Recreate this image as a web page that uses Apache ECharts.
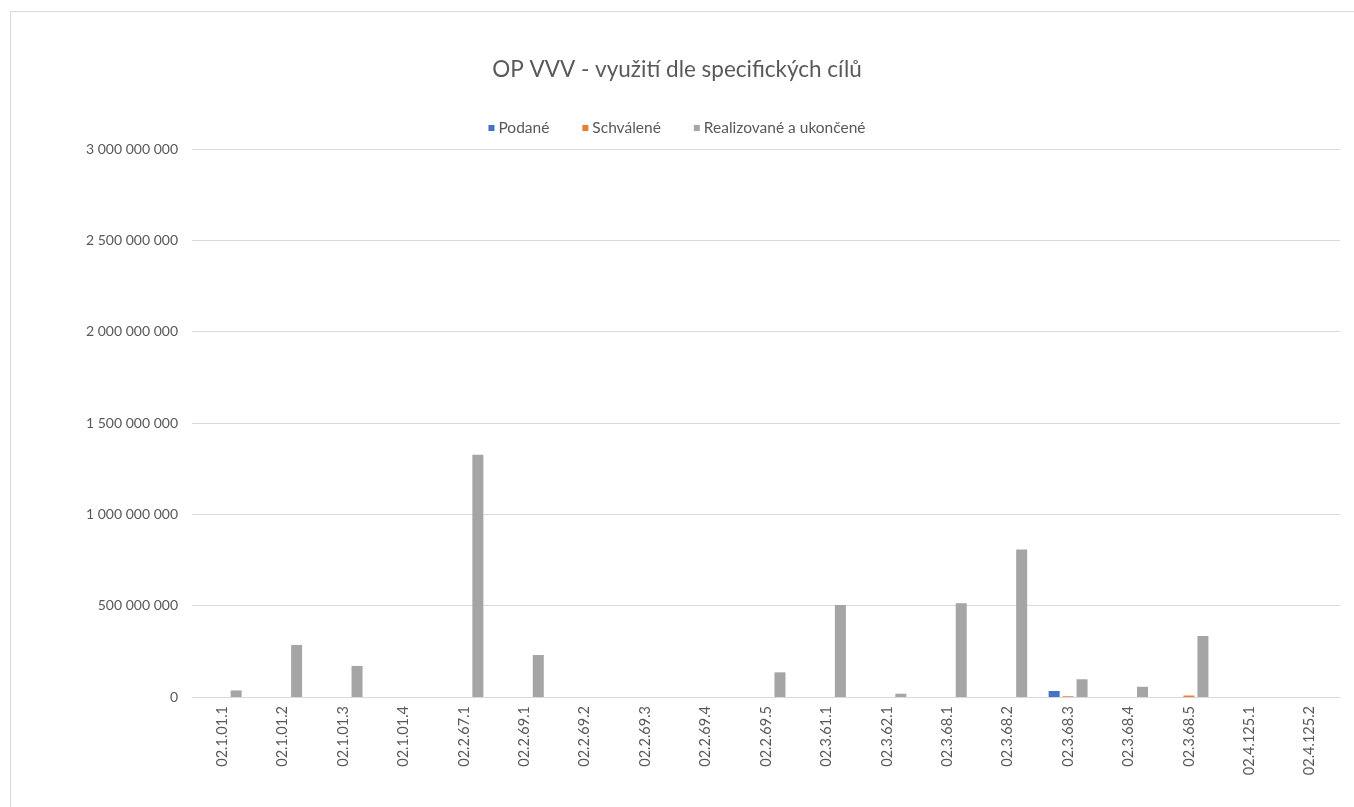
<!DOCTYPE html>
<html>
<head>
<meta charset="utf-8">
<script src="https://cdn.jsdelivr.net/npm/echarts@6/dist/echarts.min.js"></script>
<style>
  html, body { margin: 0; padding: 0; overflow: hidden; background: #fff; }
  .frame {
    position: absolute; left: 10px; top: 11px;
    width: 1400px; height: 850px;
    border: 1px solid #d9d9d9;
  }
  #chart { position: absolute; left: 0; top: 0; width: 1354px; height: 807px; }
</style>
</head>
<body>
<div class="frame"></div>
<div id="chart"></div>
<script>
// kategorie (specifické cíle)
const categories = [
  '02.1.01.1', '02.1.01.2', '02.1.01.3', '02.1.01.4', '02.2.67.1',
  '02.2.69.1', '02.2.69.2', '02.2.69.3', '02.2.69.4', '02.2.69.5',
  '02.3.61.1', '02.3.62.1', '02.3.68.1', '02.3.68.2', '02.3.68.3',
  '02.3.68.4', '02.3.68.5', '02.4.125.1', '02.4.125.2',
]

// hodnoty (Kč)
const podane = [0, 0, 0, 0, 0, 0, 0, 0, 0, 0, 0, 0, 0, 0, 33000000, 0, 0, 0, 0]
const schvalene = [0, 0, 0, 0, 0, 0, 0, 0, 0, 0, 0, 0, 0, 0, 4000000, 0, 8000000, 0, 0]
const realizovane = [
  36000000, 285000000, 170000000, 0, 1326000000,
  230000000, 0, 0, 0, 135000000,
  504000000, 18000000, 513000000, 808000000, 97000000,
  56000000, 334000000, 0, 0,
]

const seriesNames = ['Podané', 'Schválené', 'Realizované a ukončené']
const seriesColors = ['#4472C4', '#ED7D31', '#A5A5A5']

const yMin = 0
const yMax = 3000000000
const yInterval = 500000000

const font = 'Lato, "DejaVu Sans", sans-serif'
const textColor = '#595959'

function fmt(v) {
  return String(v).replace(/\B(?=(\d{3})+(?!\d))/g, ' ')
}

const chart = echarts.init(document.getElementById('chart'), null, { renderer: 'canvas' })

const data = [podane, schvalene, realizovane]

chart.setOption({
  backgroundColor: 'transparent',
  animation: false,
  textStyle: { fontFamily: font, color: textColor },
  title: {
    text: 'OP VVV - využití dle specifických cílů',
    left: 'center',
    top: 53,
    textStyle: { fontFamily: font, fontSize: 22.5, fontWeight: 'normal', color: textColor },
  },
  legend: {
    data: seriesNames,
    top: 115,
    left: 'center',
    itemWidth: 6,
    itemHeight: 6,
    itemGap: 33,
    icon: 'rect',
    textStyle: { fontFamily: font, fontSize: 15.5, color: textColor, padding: [0, 0, 0, -1] },
  },
  grid: { left: 192, right: 14, top: 149, bottom: 110, containLabel: false },
  xAxis: {
    type: 'category',
    data: categories,
    axisLine: { lineStyle: { color: '#d9d9d9', width: 1 } },
    axisTick: { show: false },
    axisLabel: {
      rotate: 90,
      interval: 0,
      margin: 9,
      fontFamily: font,
      fontSize: 14.5,
      color: textColor,
    },
  },
  yAxis: {
    type: 'value',
    min: yMin,
    max: yMax,
    interval: yInterval,
    axisLine: { show: false },
    axisTick: { show: false },
    splitLine: { lineStyle: { color: '#d9d9d9', width: 1 } },
    axisLabel: {
      margin: 14,
      fontFamily: font,
      fontSize: 14,
      color: textColor,
      formatter: (v) => fmt(v),
    },
  },
  series: seriesNames.map((name, i) => ({
    name,
    type: 'bar',
    barWidth: 11,
    barGap: '27%',
    itemStyle: { color: seriesColors[i] },
    data: data[i],
  })),
})
</script>
</body>
</html>
